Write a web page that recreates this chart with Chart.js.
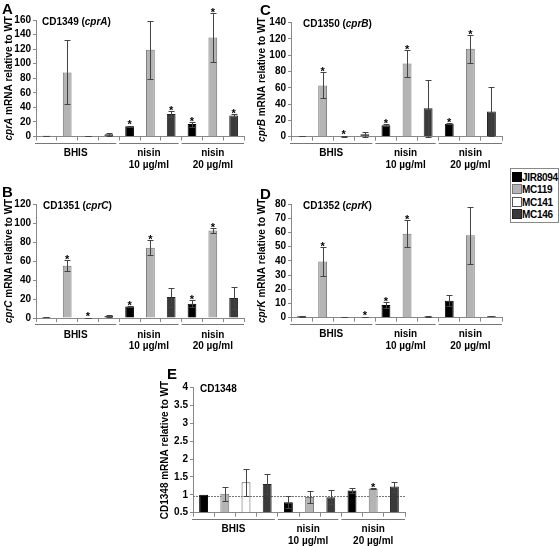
<!DOCTYPE html>
<html>
<head>
<meta charset="utf-8">
<script src="https://cdn.jsdelivr.net/npm/chart.js@4"></script>
<style>
  body { margin: 0; background: #fff; }
  #wrap { position: relative; width: 560px; height: 546px; }
  #wrap canvas { position: absolute; left: 0; top: 0; }
  #legend { position: absolute; left: 510px; top: 168px; width: 47px; height: 53px;
            border: 1px solid #888; background: #fff; font: bold 10px "Liberation Sans", Arial, sans-serif;
            letter-spacing: -0.3px; }
  #legend div { position: absolute; left: 1px; height: 12px; line-height: 12px; white-space: nowrap; }
  #legend span { display: inline-block; width: 8px; height: 8px; vertical-align: -1px; margin-right: 0px; }
</style>
</head>
<body>
<div id="wrap">
  <canvas id="cA" width="560" height="546"></canvas>
  <canvas id="cB" width="560" height="546"></canvas>
  <canvas id="cC" width="560" height="546"></canvas>
  <canvas id="cD" width="560" height="546"></canvas>
  <canvas id="cE" width="560" height="546"></canvas>
  <div id="legend"></div>
</div>
<script>
// strains and bar layout
const strains = ['JIR8094', 'MC119', 'MC141', 'MC146'];
const strainColors = ['#000000', '#b4b4b4', '#ffffff', '#3a3a3a'];
const strainBorders = ['#000000', '#777777', '#555555', '#222222'];
const groupNames = ['BHIS', 'nisin', 'nisin'];
const groupDoses = ['', '10 µg/ml', '20 µg/ml'];
const barStrain = [0, 1, 2, 3, 0, 1, 3, 0, 1, 3];
const barGroup = [0, 0, 0, 0, 1, 1, 1, 2, 2, 2];

// A: CD1349 (cprA)
const cprA = [1, 88, 0.3, 3, 14, 119, 31, 17, 136, 29];
const cprAErr = [0.3, 44, 0.1, 2, 0.5, 40, 4.5, 3.5, 34, 2.5];
const cprAStar = [0, 0, 0, 0, 1, 0, 1, 1, 1, 1];
// C: CD1350 (cprB)
const cprB = [1, 63, 0.3, 3, 14, 90, 35, 16, 108, 31];
const cprBErr = [0.2, 16, 0.1, 3, 1, 17, 35, 1, 17, 30];
const cprBStar = [0, 1, 1, 0, 1, 1, 0, 1, 1, 0];
// B: CD1351 (cprC)
const cprC = [1, 55, 0.4, 2, 12, 74, 22, 15, 92, 21];
const cprCErr = [0.2, 6, 0.1, 1, 0.5, 8, 10, 3.5, 3, 12];
const cprCStar = [0, 1, 1, 0, 1, 1, 0, 1, 1, 0];
// D: CD1352 (cprK)
const cprK = [1, 39.5, 0.5, 0.3, 9, 59, 0.8, 12, 58, 1];
const cprKErr = [0.2, 10.5, 0.1, 0.1, 2, 9.5, 0.1, 4, 20, 0.1];
const cprKStar = [0, 1, 0, 1, 1, 1, 0, 0, 0, 0];
// E: CD1348
const cd1348 = [1.0, 1.03, 1.35, 1.3, 0.79, 0.94, 0.93, 1.12, 1.17, 1.23];
const cd1348Err = [0, 0.19, 0.37, 0.27, 0.17, 0.17, 0.2, 0.06, 0.01, 0.14];
const cd1348Star = [0, 0, 0, 0, 0, 0, 0, 0, 1, 0];

const FONT = '"Liberation Sans", Arial, sans-serif';
Chart.defaults.font.family = FONT;
Chart.defaults.font.size = 10;
Chart.defaults.font.weight = 'bold';
Chart.defaults.color = '#000';

const panels = [
  { id: 'cA', letter: 'A', locus: 'CD1349', gene: 'cprA', values: cprA, errs: cprAErr, stars: cprAStar,
    min: 0, max: 160, step: 20, rect: [36, 20, 244, 136.5], yTitleX: 9, titleX: 42, letterPos: [2, 2] },
  { id: 'cC', letter: 'C', locus: 'CD1350', gene: 'cprB', values: cprB, errs: cprBErr, stars: cprBStar,
    min: 0, max: 140, step: 20, rect: [291, 22.7, 502, 136.7], yTitleX: 262, titleX: 303, letterPos: [260, 3] },
  { id: 'cB', letter: 'B', locus: 'CD1351', gene: 'cprC', values: cprC, errs: cprCErr, stars: cprCStar,
    min: 0, max: 120, step: 20, rect: [36, 204, 244, 318], yTitleX: 9, titleX: 43, letterPos: [2, 185] },
  { id: 'cD', letter: 'D', locus: 'CD1352', gene: 'cprK', values: cprK, errs: cprKErr, stars: cprKStar,
    min: 0, max: 80, step: 10, rect: [291, 204, 502, 317.7], yTitleX: 262, titleX: 303, letterPos: [260, 187] },
  { id: 'cE', letter: 'E', locus: 'CD1348', gene: '', values: cd1348, errs: cd1348Err, stars: cd1348Star,
    min: 0.5, max: 4, step: 0.5, rect: [193, 387.4, 405, 512.7], yTitleX: 165, titleX: 200, letterPos: [167, 367],
    refLine: 0.97 }
];

function drawParts(ctx, parts, x, y) {
  parts.forEach(([txt, italic]) => {
    ctx.font = (italic ? 'italic ' : '') + 'bold 10px ' + FONT;
    ctx.fillText(txt, x, y);
    x += ctx.measureText(txt).width;
  });
}
function partsWidth(ctx, parts) {
  let w = 0;
  parts.forEach(([txt, italic]) => {
    ctx.font = (italic ? 'italic ' : '') + 'bold 10px ' + FONT;
    w += ctx.measureText(txt).width;
  });
  return w;
}

function panelPlugin(p) {
  return {
    id: 'panel' + p.letter,
    beforeDatasetsDraw(chart) {
      if (p.refLine === undefined) return;
      const ctx = chart.ctx, area = chart.chartArea;
      const yy = Math.round(chart.scales.y.getPixelForValue(p.refLine)) + 0.5;
      ctx.save();
      ctx.strokeStyle = '#777';
      ctx.setLineDash([2, 1]);
      ctx.beginPath();
      ctx.moveTo(area.left, yy);
      ctx.lineTo(area.right, yy);
      ctx.stroke();
      ctx.restore();
    },
    afterDatasetsDraw(chart) {
      const ctx = chart.ctx, area = chart.chartArea, ys = chart.scales.y;
      const meta = chart.getDatasetMeta(0);
      ctx.save();
      ctx.strokeStyle = '#444';
      ctx.lineWidth = 1;
      ctx.fillStyle = '#000';
      meta.data.forEach((bar, i) => {
        const v = p.values[i], e = p.errs[i];
        const bx = Math.round(bar.x) + 0.5;
        let top = ys.getPixelForValue(v);
        if (e > 0) {
          const yt = Math.round(ys.getPixelForValue(v + e)) + 0.5;
          const yb = Math.round(ys.getPixelForValue(Math.max(v - e, p.min))) + 0.5;
          ctx.beginPath();
          ctx.moveTo(bx, yt); ctx.lineTo(bx, yb);
          ctx.moveTo(bx - 3, yt); ctx.lineTo(bx + 3, yt);
          ctx.moveTo(bx - 3, yb); ctx.lineTo(bx + 3, yb);
          ctx.stroke();
          top = Math.min(top, yt);
        }
        if (p.stars[i]) {
          ctx.font = 'bold 11px ' + FONT;
          ctx.textAlign = 'center';
          ctx.textBaseline = 'alphabetic';
          ctx.fillText('*', bar.x, top + 2);
        }
      });

      // group lines and labels under the axis
      const n = p.values.length, w = (area.right - area.left) / n;
      ctx.strokeStyle = '#777';
      ctx.font = 'bold 10px ' + FONT;
      ctx.textAlign = 'center';
      ctx.textBaseline = 'middle';
      for (let g = 0; g < groupNames.length; g++) {
        const idx = barGroup.map((bg, i) => bg === g ? i : -1).filter(i => i >= 0);
        const x0 = area.left + idx[0] * w + (g === 0 ? -1 : 0);
        const x1 = area.left + (idx[idx.length - 1] + 1) * w - (g < groupNames.length - 1 ? 3 : 0);
        const ly = Math.round(area.bottom + 6) + 0.5;
        ctx.beginPath();
        ctx.moveTo(x0, ly); ctx.lineTo(x1, ly);
        ctx.stroke();
        const cx = (x0 + x1) / 2;
        ctx.fillText(groupNames[g], cx, area.bottom + 17);
        if (groupDoses[g]) ctx.fillText(groupDoses[g], cx, area.bottom + 28.5);
      }

      // panel title
      ctx.textAlign = 'left';
      const title = p.gene ? [[p.locus + ' (', false], [p.gene, true], [')', false]] : [[p.locus, false]];
      drawParts(ctx, title, p.titleX, area.top + 2);

      // y axis title
      const yTitle = p.gene ? [[p.gene, true], [' mRNA relative to WT', false]] : [[p.locus + ' mRNA relative to WT', false]];
      ctx.save();
      ctx.translate(p.yTitleX, (area.top + area.bottom) / 2);
      ctx.rotate(-Math.PI / 2);
      const tw = partsWidth(ctx, yTitle);
      drawParts(ctx, yTitle, -tw / 2, 0);
      ctx.restore();

      // panel letter
      ctx.font = 'bold 15px ' + FONT;
      ctx.textBaseline = 'top';
      ctx.fillText(p.letter, p.letterPos[0], p.letterPos[1]);
      ctx.restore();
    }
  };
}

panels.forEach(p => {
  const yW = 30, xH = 5;
  const [L, T, R, B] = p.rect;
  const config = {
    type: 'bar',
    data: {
      labels: p.values.map(() => ''),
      datasets: [{
        data: p.values,
        base: p.min,
        backgroundColor: barStrain.map(s => strainColors[s]),
        borderColor: barStrain.map(s => strainBorders[s]),
        borderWidth: 1,
        borderSkipped: 'start',
        barPercentage: 0.42,
        categoryPercentage: 1
      }]
    },
    options: {
      responsive: false,
      animation: false,
      events: [],
      layout: { padding: { left: L - yW, top: T, right: 560 - R, bottom: 546 - B - xH } },
      plugins: { legend: { display: false }, tooltip: { enabled: false } },
      scales: {
        x: {
          offset: true,
          grid: { display: true, drawOnChartArea: false, drawTicks: true, tickLength: 4, color: '#888', offset: true },
          border: { display: true, color: '#888' },
          ticks: { display: false },
          afterFit: s => { s.height = xH; }
        },
        y: {
          min: p.min,
          max: p.max,
          grid: { display: true, drawOnChartArea: false, drawTicks: true, tickLength: 3, color: '#888' },
          border: { display: true, color: '#888' },
          ticks: { stepSize: p.step, padding: 2, autoSkip: false, callback: v => String(v) },
          afterFit: s => { s.width = yW; }
        }
      }
    },
    plugins: [panelPlugin(p)]
  };
  new Chart(document.getElementById(p.id), config);
});

// legend
const legend = document.getElementById('legend');
strains.forEach((name, i) => {
  const row = document.createElement('div');
  row.style.top = (3 + i * 12.3) + 'px';
  const sw = document.createElement('span');
  sw.style.background = strainColors[i];
  sw.style.border = '1px solid ' + strainBorders[i];
  row.appendChild(sw);
  row.appendChild(document.createTextNode(name));
  legend.appendChild(row);
});
</script>
</body>
</html>
